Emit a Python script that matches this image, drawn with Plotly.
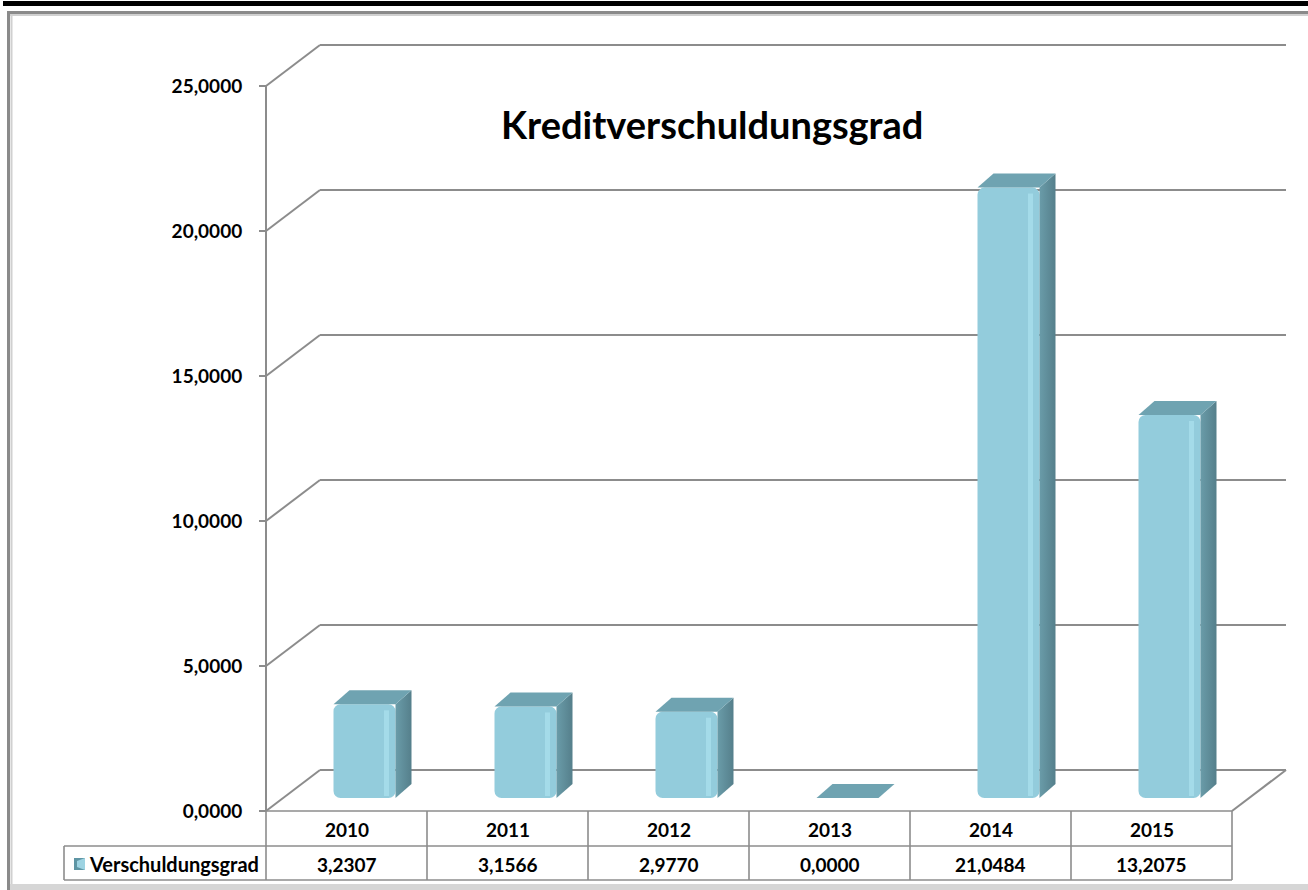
import plotly.graph_objects as go

# ---------------- data ----------------
years = ["2010", "2011", "2012", "2013", "2014", "2015"]
values = [3.2307, 3.1566, 2.9770, 0.0000, 21.0484, 13.2075]
series_name = "Verschuldungsgrad"
chart_title = "Kreditverschuldungsgrad"
y_ticks = [0, 5, 10, 15, 20, 25]

# ---------------- geometry (pixel layout of the reference) ----------------
W, H = 1308, 890
AX_LEFT_PX = 266      # front vertical axis
CAT_PX = 161          # width of one category
Y0_PX = 811           # value 0 on front plane
UNIT_PX = 29.0        # pixels per value unit


def px_to_x(p):
    return -0.5 + (p - AX_LEFT_PX) / CAT_PX


def py_to_y(p):
    return (Y0_PX - p) / UNIT_PX


def fx(p):
    return p / W


def fy(p):
    return 1 - p / H


XR = [px_to_x(0), px_to_x(W)]
YR = [py_to_y(H), py_to_y(0)]

BAR_OFF = 18 / CAT_PX
BAR_W = 62 / CAT_PX
BAR_BASE = 13 / UNIT_PX
DX = 16 / CAT_PX
DY = 14 / UNIT_PX
WALL_DX = 54 / CAT_PX
WALL_DY = 41 / UNIT_PX

FRONT = "#93CCDC"
SIDE_A = "#6A9CA9"
SIDE_B = "#557F8B"
TOP = "#6FA3B1"
GRID = "#8C8C8C"
FONT = "Lato"

n = len(years)
fig = go.Figure()

# front faces (bars)
xs = [i + BAR_OFF for i in range(n)]
fig.add_trace(go.Bar(
    x=xs, y=values, base=[BAR_BASE] * n, width=[BAR_W] * n,
    marker=dict(color=FRONT, line=dict(width=0), cornerradius=7),
    showlegend=False, hoverinfo="skip",
))
# highlight strip on front faces
fig.add_trace(go.Bar(
    x=[x + BAR_W / 2 - 9 / CAT_PX for x in xs],
    y=[max(v - 8 / UNIT_PX, 0) for v in values],
    base=[BAR_BASE + 2 / UNIT_PX] * n, width=[5 / CAT_PX] * n,
    marker=dict(color="rgba(170,224,238,0.75)", line=dict(width=0)),
    showlegend=False, hoverinfo="skip",
))

# side and top faces
for i, v in enumerate(values):
    xl = xs[i] - BAR_W / 2
    xr = xs[i] + BAR_W / 2
    b = BAR_BASE
    t = BAR_BASE + v
    if v > 0:
        fig.add_trace(go.Scatter(
            x=[xr, xr + DX, xr + DX, xr, xr],
            y=[b, b + DY, t + DY, t, b],
            mode="lines", line=dict(width=0), fill="toself",
            fillgradient=dict(type="horizontal",
                              colorscale=[[0, SIDE_A], [1, SIDE_B]]),
            showlegend=False, hoverinfo="skip",
        ))
    fig.add_trace(go.Scatter(
        x=[xl, xl + DX, xr + DX, xr, xl],
        y=[t, t + DY, t + DY, t, t],
        mode="lines", line=dict(width=0), fill="toself",
        fillcolor=TOP, showlegend=False, hoverinfo="skip",
    ))

shapes = []
x_front_l = -0.5
x_front_r = n - 0.5
for tv in y_ticks:
    shapes.append(dict(type="line", xref="x", yref="y", x0=x_front_l, y0=tv,
                       x1=x_front_l + WALL_DX, y1=tv + WALL_DY,
                       line=dict(color=GRID, width=2), layer="below"))
    shapes.append(dict(type="line", xref="x", yref="y", x0=x_front_l + WALL_DX,
                       y0=tv + WALL_DY, x1=x_front_r + WALL_DX, y1=tv + WALL_DY,
                       line=dict(color=GRID, width=2), layer="below"))
shapes.append(dict(type="line", xref="x", yref="y", x0=x_front_r, y0=0,
                   x1=x_front_r + WALL_DX, y1=WALL_DY,
                   line=dict(color=GRID, width=2), layer="below"))
shapes.append(dict(type="line", xref="x", yref="y", x0=x_front_l, y0=0,
                   x1=x_front_l, y1=y_ticks[-1],
                   line=dict(color=GRID, width=2), layer="below"))

# data table
TBL_TOP = 0
TBL_MID = py_to_y(846)
TBL_BOT = py_to_y(880)
L_CELL = px_to_x(64)
TL = dict(color=GRID, width=1.6)
shapes.append(dict(type="line", xref="x", yref="y", x0=x_front_l, y0=TBL_TOP,
                   x1=x_front_r, y1=TBL_TOP, line=TL))
shapes.append(dict(type="line", xref="x", yref="y", x0=L_CELL, y0=TBL_MID,
                   x1=x_front_r, y1=TBL_MID, line=TL))
shapes.append(dict(type="line", xref="x", yref="y", x0=L_CELL, y0=TBL_BOT,
                   x1=x_front_r, y1=TBL_BOT, line=TL))
for k in range(n + 1):
    shapes.append(dict(type="line", xref="x", yref="y", x0=k - 0.5, y0=TBL_TOP,
                       x1=k - 0.5, y1=TBL_BOT, line=TL))
shapes.append(dict(type="line", xref="x", yref="y", x0=L_CELL, y0=TBL_MID,
                   x1=L_CELL, y1=TBL_BOT, line=TL))

# legend key in table
KX0, KX1, KY0, KY1 = 74, 85, 858, 870
shapes.append(dict(type="rect", xref="paper", yref="paper",
                   x0=fx(KX0), x1=fx(KX1), y0=fy(KY1), y1=fy(KY0),
                   fillcolor="#5E95A4", line=dict(width=0)))
shapes.append(dict(type="path", xref="paper", yref="paper",
                   path=f"M {fx(KX0 + 3)} {fy(KY0 + 3)} L {fx(KX1)} {fy(KY0)} L {fx(KX1)} {fy(KY1)} L {fx(KX0 + 3)} {fy(KY1 - 3)} Z",
                   fillcolor="#9DD3E2", line=dict(width=0)))

# frame
shapes.append(dict(type="rect", xref="paper", yref="paper",
                   x0=fx(3), x1=fx(1308), y0=fy(1), y1=fy(6),
                   fillcolor="black", line=dict(width=0)))
shapes.append(dict(type="line", xref="paper", yref="paper",
                   x0=fx(9), x1=fx(1308), y0=fy(12.5), y1=fy(12.5),
                   line=dict(color="#8A8A8A", width=3)))
shapes.append(dict(type="line", xref="paper", yref="paper",
                   x0=fx(8.5), x1=fx(8.5), y0=fy(11), y1=fy(890),
                   line=dict(color="#8A8A8A", width=3)))
shapes.append(dict(type="line", xref="paper", yref="paper",
                   x0=fx(11.5), x1=fx(11.5), y0=fy(14), y1=fy(885),
                   line=dict(color="#D0D0D0", width=2)))
shapes.append(dict(type="line", xref="paper", yref="paper",
                   x0=fx(10), x1=fx(1308), y0=fy(15), y1=fy(15),
                   line=dict(color="#D0D0D0", width=2)))
shapes.append(dict(type="rect", xref="paper", yref="paper",
                   x0=fx(10), x1=fx(1308), y0=fy(884), y1=fy(890),
                   fillcolor="#D6D6D6", line=dict(width=0)))

TXT = dict(family=FONT, size=19, color="black", weight="bold")
annotations = []
for i, yr_ in enumerate(years):
    annotations.append(dict(x=i, y=py_to_y(829), xref="x", yref="y", text=yr_,
                            showarrow=False, xanchor="center", yanchor="middle",
                            font=TXT))
    annotations.append(dict(x=i, y=py_to_y(864), xref="x", yref="y",
                            text=f"{values[i]:.4f}".replace(".", ","),
                            showarrow=False, xanchor="center", yanchor="middle",
                            font=TXT))
annotations.append(dict(x=fx(261), y=fy(864), xref="paper", yref="paper",
                        text=series_name, showarrow=False, xanchor="right",
                        yanchor="middle",
                        font=dict(family=FONT, size=20, color="black", weight="bold")))
annotations.append(dict(x=fx(712), y=fy(124), xref="paper", yref="paper",
                        text=chart_title, showarrow=False, xanchor="center",
                        yanchor="middle",
                        font=dict(family=FONT, size=38, color="black", weight="bold")))

fig.update_layout(
    width=W, height=H, autosize=False,
    margin=dict(l=0, r=0, t=0, b=0),
    paper_bgcolor="white", plot_bgcolor="white",
    separators=",.",
    barmode="overlay",
    showlegend=False,
    xaxis=dict(range=XR, visible=False, fixedrange=True),
    yaxis=dict(range=YR, anchor="free", position=AX_LEFT_PX / W,
               tickvals=y_ticks, tickformat=".4f", ticks="outside",
               ticklen=7, tickwidth=2, tickcolor=GRID,
               showgrid=False, zeroline=False, showline=False,
               automargin=False, ticklabelstandoff=13, fixedrange=True,
               tickfont=dict(family=FONT, size=19, color="black", weight="bold")),
    shapes=shapes,
    annotations=annotations,
)

fig.write_html("out.html", config={"displayModeBar": False},
               post_script="document.body.style.margin='0';document.body.style.overflow='hidden';")
